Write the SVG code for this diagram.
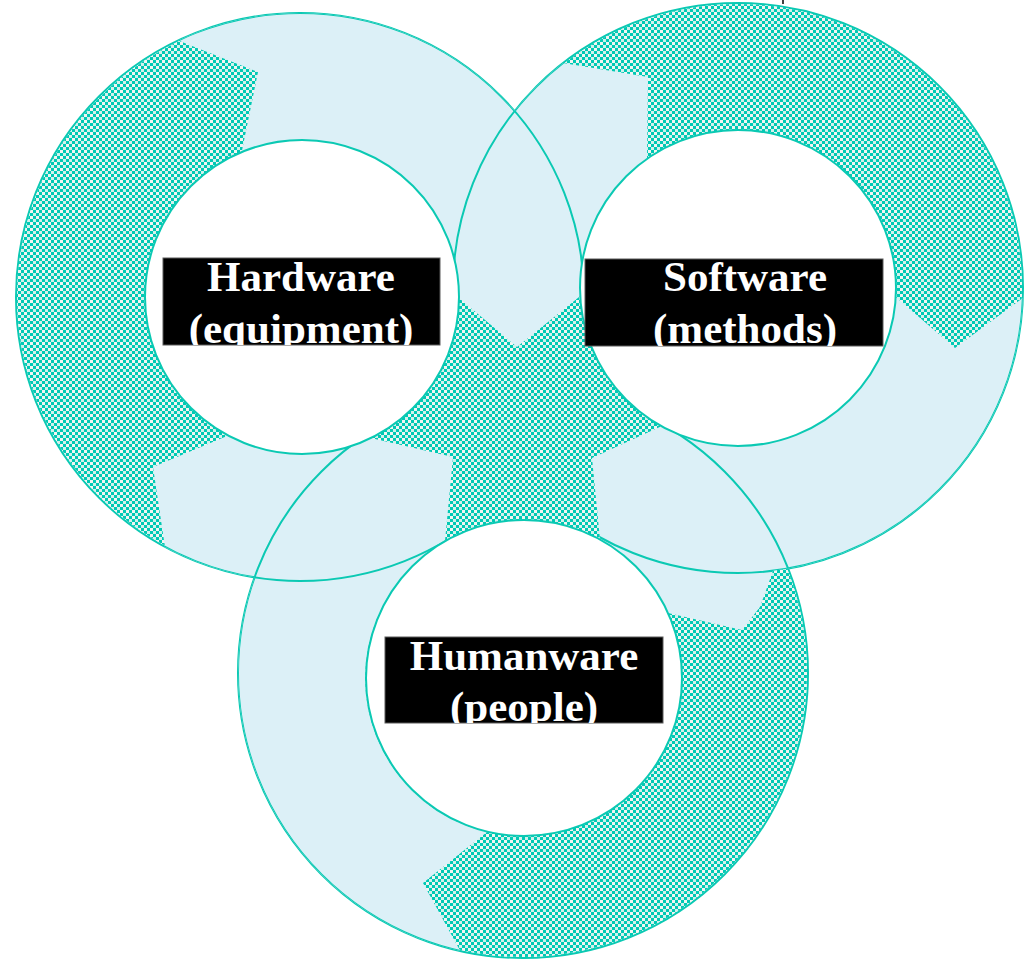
<svg xmlns="http://www.w3.org/2000/svg" width="1032" height="965" viewBox="0 0 1032 965">
<style>
.chk{fill:url(#checker)}
.band{fill:#DCF0F7}
.ring-line{fill:none;stroke:#0BC9B3;stroke-width:2}
.hole{fill:#FFFFFF;stroke:#0BC9B3;stroke-width:2}
.box{fill:#000000;stroke:#5a5a5a;stroke-width:1}
.lbl{font-family:"Liberation Serif","Times New Roman",serif;font-weight:bold;font-size:43px;fill:#FFFFFF;text-anchor:middle}
</style>
<defs>
<pattern id="checker" width="6" height="6" patternUnits="userSpaceOnUse">
<rect width="6" height="6" fill="#00C9B4"/>
<rect x="0" y="0" width="3" height="3" fill="#F4F4F2"/>
<rect x="3" y="3" width="3" height="3" fill="#D2F1EC"/>
</pattern>
<path id="bandA" d="M178.2,40.5 L258,72 L241.7,152.1 A157,157 0 0 1 454.5,259.4 L453,293 L517,347 L584,293 L581.9,263 A158,158 0 0 1 647,158.8 L648,77 L563,63 A285,285 0 0 0 514.7,111 A284,284 0 0 0 178.2,40.5 Z"/>
<path id="bandB" d="M153,467 L165,547 A284,284 0 0 0 254.6,577.3 A285,285 0 0 0 460.3,951 L423,883 L487,832 A158,158 0 0 1 445,541 L453,457 L370.8,438.1 A157,157 0 0 1 228.3,435.6 Z"/>
<path id="bandC" d="M895.7,297.1 L955,348 L1022.8,297.9 A285,285 0 0 1 773,570.8 L760,607 L742,630 L668,613 A158,158 0 0 0 600,539.4 L592,458 L661.4,426.2 A158,158 0 0 0 895.7,297.1 Z"/>
<clipPath id="bandsClip">
<use href="#bandA"/>
<use href="#bandB"/>
<use href="#bandC"/>
</clipPath>
<clipPath id="clipH"><rect x="163" y="258" width="277" height="87"/></clipPath>
<clipPath id="clipS"><rect x="585" y="259" width="298" height="87"/></clipPath>
<clipPath id="clipU"><rect x="385" y="637" width="278" height="86"/></clipPath>
</defs>
<rect width="1032" height="965" fill="#FFFFFF"/>
<g id="ring-edges">
<circle class="ring-line" cx="300" cy="297" r="284"/>
<circle class="ring-line" cx="738" cy="288" r="285"/>
<circle class="ring-line" cx="523" cy="673" r="285"/>
</g>
<g id="rings">
<circle class="chk" cx="300" cy="297" r="283"/>
<circle class="chk" cx="738" cy="288" r="284"/>
<circle class="chk" cx="523" cy="673" r="284"/>
</g>
<g id="connectors">
<use id="flow-hardware-software" href="#bandA" class="band"/>
<use id="flow-humanware-hardware" href="#bandB" class="band"/>
<use id="flow-software-humanware" href="#bandC" class="band"/>
<g clip-path="url(#bandsClip)">
<circle class="ring-line" cx="300" cy="297" r="284"/>
<circle class="ring-line" cx="738" cy="288" r="285"/>
<circle class="ring-line" cx="523" cy="673" r="285"/>
</g>
</g>
<g id="hardware">
<circle class="hole" cx="302" cy="297" r="157"/>
<rect class="box" x="163" y="258" width="277" height="87"/>
<g clip-path="url(#clipH)">
<text class="lbl" x="301" y="291">Hardware</text>
<text class="lbl" x="301" y="343">(equipment)</text>
</g>
</g>
<g id="software">
<circle class="hole" cx="738" cy="288" r="158"/>
<rect class="box" x="585" y="259" width="298" height="87"/>
<g clip-path="url(#clipS)">
<text class="lbl" x="745" y="291">Software</text>
<text class="lbl" x="745" y="343">(methods)</text>
</g>
</g>
<g id="humanware">
<circle class="hole" cx="524" cy="678" r="158"/>
<rect class="box" x="385" y="637" width="278" height="86"/>
<g clip-path="url(#clipU)">
<text class="lbl" x="524" y="670">Humanware</text>
<text class="lbl" x="524" y="721">(people)</text>
</g>
</g>
<line x1="783" y1="0" x2="783" y2="4" stroke="#000000" stroke-width="1.5"/>
</svg>
